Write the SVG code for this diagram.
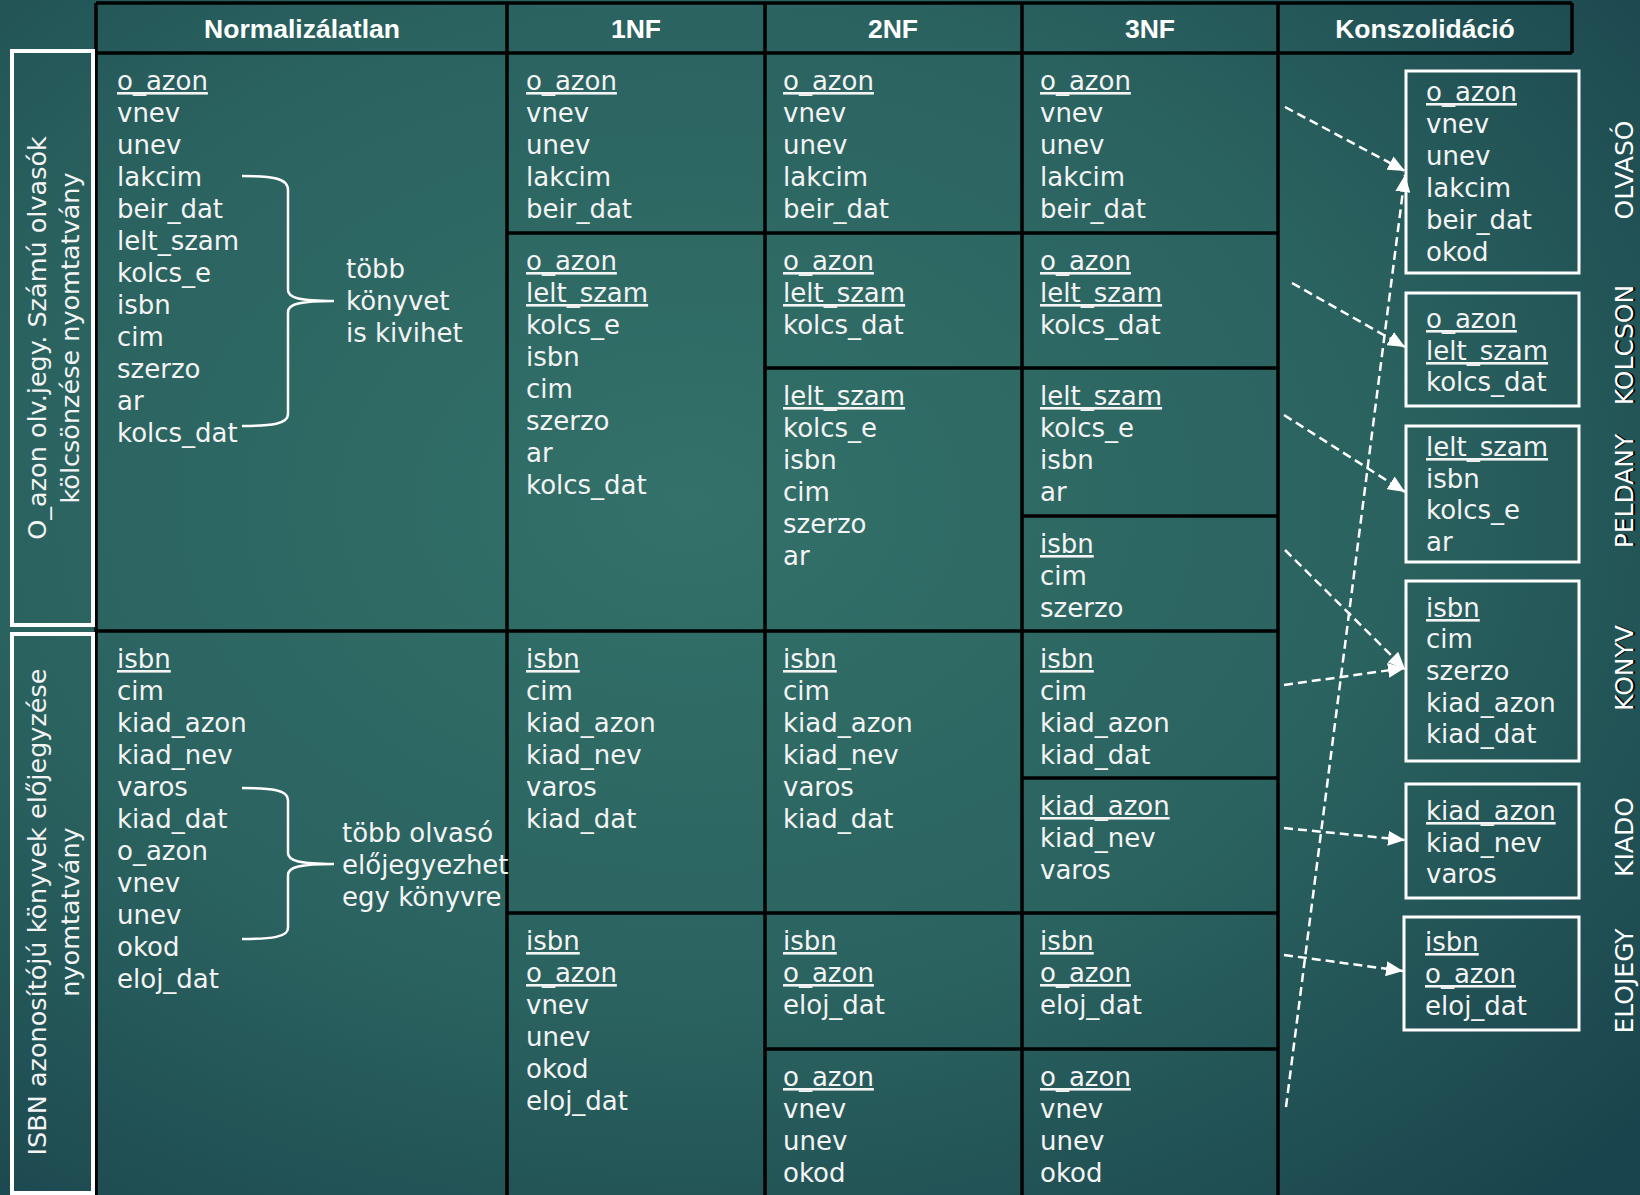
<svg xmlns="http://www.w3.org/2000/svg" width="1640" height="1195" viewBox="0 0 1640 1195">
<defs>
<radialGradient id="bgg" cx="0.42" cy="0.42" r="0.78">
<stop offset="0" stop-color="#33716a"/>
<stop offset="0.55" stop-color="#2a625f"/>
<stop offset="1" stop-color="#1a444d"/>
</radialGradient>
<marker id="arr" markerUnits="userSpaceOnUse" markerWidth="17" markerHeight="15" refX="17" refY="7.5" orient="auto">
<path d="M0,0 L17,7.5 L0,15 z" fill="#fff"/>
</marker>
<style>
.t{font-family:"DejaVu Sans",sans-serif;font-size:26px;fill:#f4f4f4}
.k{text-decoration:underline}
.h{font-family:"Liberation Sans",Arial,sans-serif;font-weight:bold;font-size:26.5px;fill:#fff;text-anchor:middle}
.grid{stroke:#000;stroke-width:3.5;fill:none}
.box{fill:none;stroke:#fff;stroke-width:3}
.sbox{fill:none;stroke:#fff;stroke-width:4}
.conn{stroke:#fff;stroke-width:2.5;stroke-dasharray:9 5;fill:none;marker-end:url(#arr)}
.brace{stroke:#fff;stroke-width:2.5;fill:none}
.lbl{font-family:"DejaVu Sans",sans-serif;font-size:25px;fill:#fff;text-anchor:middle}
.sh{fill:#000}
.vl{font-family:"DejaVu Sans",sans-serif;font-size:25.5px;fill:#f4f4f4;text-anchor:middle}
</style>
</defs>
<rect x="0" y="0" width="1640" height="1195" fill="url(#bgg)"/>

<g id="grid">
<path class="grid" d="M96,3 H1572 M96,53 H1572 M1572,3 V53 M96,3 V1195 M507,3 V1195 M765,3 V1195 M1022,3 V1195 M1278,3 V1195 M96,631 H1278 M507,233 H1278 M765,368 H1278 M1022,516 H1278 M507,913 H1278 M765,1049 H1278 M1022,778 H1278"/>
</g>

<g id="headers">
<text class="h" x="302" y="38">Normalizálatlan</text>
<text class="h" x="636" y="38">1NF</text>
<text class="h" x="893" y="38">2NF</text>
<text class="h" x="1150" y="38">3NF</text>
<text class="h" x="1425" y="38">Konszolidáció</text>
</g>

<g id="side-upper">
<rect class="sbox" x="12" y="51" width="81" height="574"/>
<text class="vl" transform="translate(46,338) rotate(-90)">O_azon olv.jegy. Számú olvasók</text>
<text class="vl" transform="translate(79,338) rotate(-90)">kölcsönzése nyomtatvány</text>
</g>
<g id="side-lower">
<rect class="sbox" x="12" y="634" width="81" height="559"/>
<text class="vl" transform="translate(46,912) rotate(-90)">ISBN azonosítójú könyvek előjegyzése</text>
<text class="vl" transform="translate(79,912) rotate(-90)">nyomtatvány</text>
</g>

<g id="norm-upper">
<text class="t k" x="117" y="90">o_azon</text>
<text class="t" x="117" y="122">vnev</text>
<text class="t" x="117" y="154">unev</text>
<text class="t" x="117" y="186">lakcim</text>
<text class="t" x="117" y="218">beir_dat</text>
<text class="t" x="117" y="250">lelt_szam</text>
<text class="t" x="117" y="282">kolcs_e</text>
<text class="t" x="117" y="314">isbn</text>
<text class="t" x="117" y="346">cim</text>
<text class="t" x="117" y="378">szerzo</text>
<text class="t" x="117" y="410">ar</text>
<text class="t" x="117" y="442">kolcs_dat</text>
<path class="brace" d="M242,176 C272,176 288,178 288,190 L288,290 C288,298 300,301 334,301 C300,301 288,304 288,312 L288,414 C288,424 272,426 242,426"/>
<text class="t" x="346" y="278">több</text>
<text class="t" x="346" y="310">könyvet</text>
<text class="t" x="346" y="342">is kivihet</text>
</g>

<g id="norm-lower">
<text class="t k" x="117" y="668">isbn</text>
<text class="t" x="117" y="700">cim</text>
<text class="t" x="117" y="732">kiad_azon</text>
<text class="t" x="117" y="764">kiad_nev</text>
<text class="t" x="117" y="796">varos</text>
<text class="t" x="117" y="828">kiad_dat</text>
<text class="t" x="117" y="860">o_azon</text>
<text class="t" x="117" y="892">vnev</text>
<text class="t" x="117" y="924">unev</text>
<text class="t" x="117" y="956">okod</text>
<text class="t" x="117" y="988">eloj_dat</text>
<path class="brace" d="M242,788 C272,788 288,790 288,800 L288,853 C288,861 300,864 334,864 C300,864 288,867 288,875 L288,928 C288,937 272,939 242,939"/>
<text class="t" x="342" y="842">több olvasó</text>
<text class="t" x="342" y="874">előjegyezhet</text>
<text class="t" x="342" y="906">egy könyvre</text>
</g>

<g id="nf1-u1">
<text class="t k" x="526" y="90">o_azon</text>
<text class="t" x="526" y="122">vnev</text>
<text class="t" x="526" y="154">unev</text>
<text class="t" x="526" y="186">lakcim</text>
<text class="t" x="526" y="218">beir_dat</text>
</g>
<g id="nf1-u2">
<text class="t k" x="526" y="270">o_azon</text>
<text class="t k" x="526" y="302">lelt_szam</text>
<text class="t" x="526" y="334">kolcs_e</text>
<text class="t" x="526" y="366">isbn</text>
<text class="t" x="526" y="398">cim</text>
<text class="t" x="526" y="430">szerzo</text>
<text class="t" x="526" y="462">ar</text>
<text class="t" x="526" y="494">kolcs_dat</text>
</g>
<g id="nf1-l1">
<text class="t k" x="526" y="668">isbn</text>
<text class="t" x="526" y="700">cim</text>
<text class="t" x="526" y="732">kiad_azon</text>
<text class="t" x="526" y="764">kiad_nev</text>
<text class="t" x="526" y="796">varos</text>
<text class="t" x="526" y="828">kiad_dat</text>
</g>
<g id="nf1-l2">
<text class="t k" x="526" y="950">isbn</text>
<text class="t k" x="526" y="982">o_azon</text>
<text class="t" x="526" y="1014">vnev</text>
<text class="t" x="526" y="1046">unev</text>
<text class="t" x="526" y="1078">okod</text>
<text class="t" x="526" y="1110">eloj_dat</text>
</g>

<g id="nf2-u1">
<text class="t k" x="783" y="90">o_azon</text>
<text class="t" x="783" y="122">vnev</text>
<text class="t" x="783" y="154">unev</text>
<text class="t" x="783" y="186">lakcim</text>
<text class="t" x="783" y="218">beir_dat</text>
</g>
<g id="nf2-u2">
<text class="t k" x="783" y="270">o_azon</text>
<text class="t k" x="783" y="302">lelt_szam</text>
<text class="t" x="783" y="334">kolcs_dat</text>
</g>
<g id="nf2-u3">
<text class="t k" x="783" y="405">lelt_szam</text>
<text class="t" x="783" y="437">kolcs_e</text>
<text class="t" x="783" y="469">isbn</text>
<text class="t" x="783" y="501">cim</text>
<text class="t" x="783" y="533">szerzo</text>
<text class="t" x="783" y="565">ar</text>
</g>
<g id="nf2-l1">
<text class="t k" x="783" y="668">isbn</text>
<text class="t" x="783" y="700">cim</text>
<text class="t" x="783" y="732">kiad_azon</text>
<text class="t" x="783" y="764">kiad_nev</text>
<text class="t" x="783" y="796">varos</text>
<text class="t" x="783" y="828">kiad_dat</text>
</g>
<g id="nf2-l2">
<text class="t k" x="783" y="950">isbn</text>
<text class="t k" x="783" y="982">o_azon</text>
<text class="t" x="783" y="1014">eloj_dat</text>
</g>
<g id="nf2-l3">
<text class="t k" x="783" y="1086">o_azon</text>
<text class="t" x="783" y="1118">vnev</text>
<text class="t" x="783" y="1150">unev</text>
<text class="t" x="783" y="1182">okod</text>
</g>

<g id="nf3-u1">
<text class="t k" x="1040" y="90">o_azon</text>
<text class="t" x="1040" y="122">vnev</text>
<text class="t" x="1040" y="154">unev</text>
<text class="t" x="1040" y="186">lakcim</text>
<text class="t" x="1040" y="218">beir_dat</text>
</g>
<g id="nf3-u2">
<text class="t k" x="1040" y="270">o_azon</text>
<text class="t k" x="1040" y="302">lelt_szam</text>
<text class="t" x="1040" y="334">kolcs_dat</text>
</g>
<g id="nf3-u3">
<text class="t k" x="1040" y="405">lelt_szam</text>
<text class="t" x="1040" y="437">kolcs_e</text>
<text class="t" x="1040" y="469">isbn</text>
<text class="t" x="1040" y="501">ar</text>
</g>
<g id="nf3-u4">
<text class="t k" x="1040" y="553">isbn</text>
<text class="t" x="1040" y="585">cim</text>
<text class="t" x="1040" y="617">szerzo</text>
</g>
<g id="nf3-l1">
<text class="t k" x="1040" y="668">isbn</text>
<text class="t" x="1040" y="700">cim</text>
<text class="t" x="1040" y="732">kiad_azon</text>
<text class="t" x="1040" y="764">kiad_dat</text>
</g>
<g id="nf3-l2">
<text class="t k" x="1040" y="815">kiad_azon</text>
<text class="t" x="1040" y="847">kiad_nev</text>
<text class="t" x="1040" y="879">varos</text>
</g>
<g id="nf3-l3">
<text class="t k" x="1040" y="950">isbn</text>
<text class="t k" x="1040" y="982">o_azon</text>
<text class="t" x="1040" y="1014">eloj_dat</text>
</g>
<g id="nf3-l4">
<text class="t k" x="1040" y="1086">o_azon</text>
<text class="t" x="1040" y="1118">vnev</text>
<text class="t" x="1040" y="1150">unev</text>
<text class="t" x="1040" y="1182">okod</text>
</g>

<g id="olvaso">
<rect class="box" x="1406" y="71" width="173" height="202"/>
<text class="t k" x="1426" y="101">o_azon</text>
<text class="t" x="1426" y="133">vnev</text>
<text class="t" x="1426" y="165">unev</text>
<text class="t" x="1426" y="197">lakcim</text>
<text class="t" x="1426" y="229">beir_dat</text>
<text class="t" x="1426" y="261">okod</text>
<text class="lbl" transform="translate(1633,170) rotate(-90)">OLVASÓ</text>
</g>
<g id="kolcson">
<rect class="box" x="1406" y="293" width="173" height="113"/>
<text class="t k" x="1426" y="328">o_azon</text>
<text class="t k" x="1426" y="360">lelt_szam</text>
<text class="t" x="1426" y="391">kolcs_dat</text>
<text class="lbl sh" transform="translate(1635,345) rotate(-90)">KOLCSON</text>
<text class="lbl" transform="translate(1633,345) rotate(-90)">KOLCSON</text>
</g>
<g id="peldany">
<rect class="box" x="1406" y="426" width="173" height="136"/>
<text class="t k" x="1426" y="456">lelt_szam</text>
<text class="t" x="1426" y="488">isbn</text>
<text class="t" x="1426" y="519">kolcs_e</text>
<text class="t" x="1426" y="551">ar</text>
<text class="lbl sh" transform="translate(1635,491) rotate(-90)">PELDANY</text>
<text class="lbl" transform="translate(1633,491) rotate(-90)">PELDANY</text>
</g>
<g id="konyv">
<rect class="box" x="1406" y="581" width="173" height="180"/>
<text class="t k" x="1426" y="617">isbn</text>
<text class="t" x="1426" y="648">cim</text>
<text class="t" x="1426" y="680">szerzo</text>
<text class="t" x="1426" y="712">kiad_azon</text>
<text class="t" x="1426" y="743">kiad_dat</text>
<text class="lbl sh" transform="translate(1635,668) rotate(-90)">KONYV</text>
<text class="lbl" transform="translate(1633,668) rotate(-90)">KONYV</text>
</g>
<g id="kiado">
<rect class="box" x="1406" y="784" width="173" height="114"/>
<text class="t k" x="1426" y="820">kiad_azon</text>
<text class="t" x="1426" y="852">kiad_nev</text>
<text class="t" x="1426" y="883">varos</text>
<text class="lbl" transform="translate(1633,837) rotate(-90)">KIADO</text>
</g>
<g id="elojegy">
<rect class="box" x="1404" y="917" width="175" height="113"/>
<text class="t k" x="1425" y="951">isbn</text>
<text class="t k" x="1425" y="983">o_azon</text>
<text class="t" x="1425" y="1015">eloj_dat</text>
<text class="lbl" transform="translate(1633,981) rotate(-90)">ELOJEGY</text>
</g>

<g id="connectors">
<path class="conn" d="M1285,107 L1405,171"/>
<path class="conn" d="M1286,1107 L1405,175"/>
<path class="conn" d="M1292,283 L1405,347"/>
<path class="conn" d="M1284,415 L1405,492"/>
<path class="conn" d="M1285,550 L1405,669"/>
<path class="conn" d="M1284,685 L1405,668"/>
<path class="conn" d="M1284,828 L1405,840"/>
<path class="conn" d="M1284,955 L1403,971"/>
</g>
</svg>
